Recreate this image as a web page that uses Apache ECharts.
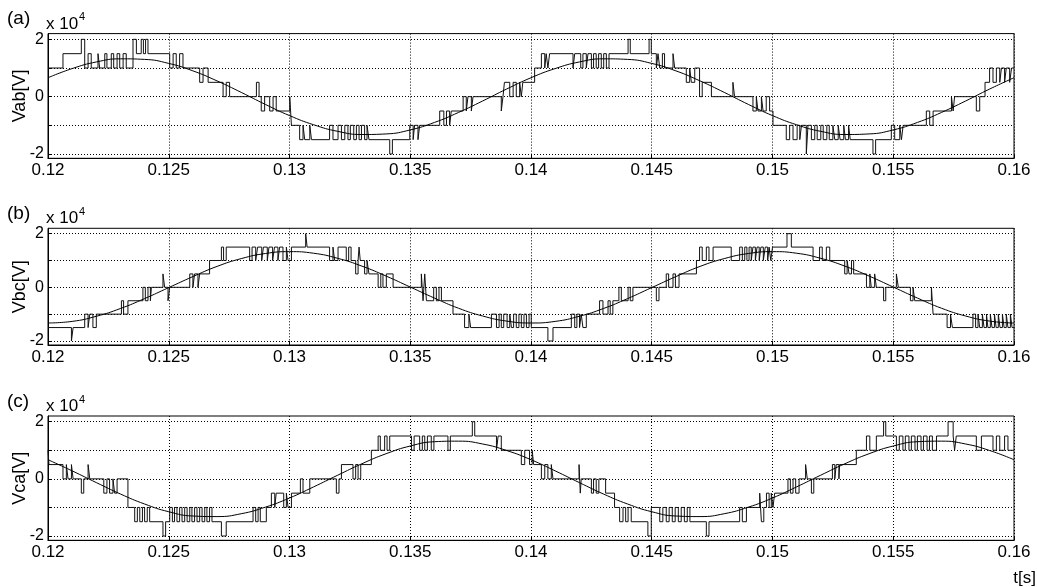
<!DOCTYPE html>
<html>
<head>
<meta charset="utf-8">
<title>Vab Vbc Vca</title>
<script src="https://cdn.jsdelivr.net/npm/echarts@6/dist/echarts.min.js"></script>
<style>
html, body { margin: 0; padding: 0; background: #fff; }
#chart { width: 1037px; height: 587px; }
</style>
</head>
<body>
<div id="chart"></div>
<script>
// time in ms, voltage in 1e4 V
var sineT = [120,121,122,123,124,125,126,127,128,129,130,131,132,133,134,135,136,137,138,139,
	140,141,142,143,144,145,146,147,148,149,150,151,152,153,154,155,156,157,158,159,160];

var vabSine = [0.66,0.98,1.21,1.32,1.30,1.16,0.90,0.55,0.15,-0.27,-0.66,-0.98,-1.21,-1.32,-1.30,-1.16,-0.90,-0.55,-0.15,0.27,
	0.66,0.98,1.21,1.32,1.30,1.16,0.90,0.55,0.15,-0.27,-0.66,-0.98,-1.21,-1.32,-1.30,-1.16,-0.90,-0.55,-0.15,0.27,0.66];
var vbcSine = [-1.33,-1.27,-1.08,-0.79,-0.42,-0.01,0.40,0.78,1.07,1.26,1.33,1.27,1.08,0.79,0.42,0.01,-0.40,-0.78,-1.07,-1.26,
	-1.33,-1.27,-1.08,-0.79,-0.42,-0.01,0.40,0.78,1.07,1.26,1.33,1.27,1.08,0.79,0.42,0.01,-0.40,-0.78,-1.07,-1.26,-1.33];
var vcaSine = [0.67,0.28,-0.13,-0.53,-0.88,-1.15,-1.30,-1.32,-1.22,-0.99,-0.67,-0.28,0.13,0.53,0.88,1.15,1.30,1.32,1.22,0.99,
	0.67,0.28,-0.13,-0.53,-0.88,-1.15,-1.30,-1.32,-1.22,-0.99,-0.67,-0.28,0.13,0.53,0.88,1.15,1.30,1.32,1.22,0.99,0.67];

// [t, level] : level is held until the next t
var vabStep = [[120.00,1],[120.62,1.5],[121.38,2],[121.52,1],[121.66,1.5],[121.79,1],[122.07,1.5],[122.14,1],[122.35,1.5],[122.44,1],
	[122.62,1.5],[122.72,1],[122.86,1.5],[122.97,1],[123.11,1.5],[123.24,1],[123.52,2],[123.66,1.5],[123.86,2],[123.95,1.5],[124.04,2],[124.14,1.5],
	[125.04,1],[125.18,1.5],[125.31,1],[125.45,1.5],[125.59,1],[126.28,0.5],[126.42,1],[126.63,0.5],[127.25,0],[127.38,0.5],[127.52,0],
	[128.63,0.5],[128.74,0],[128.83,-0.5],[128.97,0],[129.18,-0.5],[129.32,0],[129.45,-0.5],[130.01,0],[130.08,-1],[130.42,-1.5],[130.56,-1],
	[130.63,-1.5],[130.84,-1],[130.91,-1.5],[131.66,-1],[131.80,-1.5],[132.01,-1],[132.15,-1.5],[132.29,-1],[132.42,-1.5],[132.52,-1],
	[132.66,-1.5],[132.77,-1],[132.88,-1.5],[132.98,-1],[133.11,-1.5],[133.21,-1],[133.29,-1.5],[134.15,-2],[134.26,-1.5],[134.98,-1],
	[135.12,-1.5],[135.18,-1],[135.32,-1.5],[135.39,-1],[136.22,-0.5],[136.39,-1],[136.50,-0.5],[136.63,-1],[136.70,-0.5],[137.19,0],
	[137.32,-0.5],[137.39,0],[137.53,-0.5],[137.60,0],[138.77,-0.5],[138.84,0],[138.90,0.5],[139.12,0],[139.26,0.5],[139.39,0],[139.53,0.5],
	[139.60,0],[139.66,0.5],[140.15,1],[140.43,1.5],[140.57,1],[140.63,1.5],[140.70,1],[140.77,1.5],[141.74,1],[141.81,1.5],[142.06,1],
	[142.15,1.5],[142.29,1],[142.36,1.5],[142.50,1],[142.59,1.5],[142.70,1],[142.80,1.5],[142.91,1],[143.01,1.5],[143.12,1],[143.23,1.5],
	[144.02,2],[144.11,1.5],[144.89,2],[144.98,1.5],[145.19,1],[145.26,1.5],[145.33,1],[145.44,1.5],[145.53,1],[145.88,1.5],[145.95,1],
	[146.43,0.5],[146.57,1],[146.64,0.5],[146.78,1],[146.98,0],[147.09,0.5],[147.47,0],[148.36,0.5],[148.43,0],[149.19,-0.5],[149.33,0],
	[149.40,-0.5],[149.54,0],[149.61,-0.5],[149.74,0],[149.88,-0.5],[150.02,-1],[150.57,-1.5],[150.71,-1],[150.85,-1.5],[151.02,-1],
	[151.13,-1.5],[151.20,-1],[151.40,-2],[151.47,-1],[151.61,-1.5],[151.75,-1],[151.85,-1.5],[152.00,-1],[152.10,-1.5],[152.25,-1],
	[152.35,-1.5],[152.50,-1],[152.58,-1.5],[152.72,-1],[152.80,-1.5],[152.95,-1],[153.02,-1.5],[153.15,-1],[153.22,-1.5],[154.16,-2],
	[154.27,-1.5],[154.92,-1],[155.06,-1.5],[155.27,-1],[155.34,-1.5],[155.41,-1],[156.37,-0.5],[156.51,-1],[156.65,-0.5],[157.41,0],
	[157.48,-0.5],[157.54,0],[158.44,-0.5],[158.58,0],[158.80,0.5],[158.99,1],[159.13,0.5],[159.27,1],[159.41,0.5],[159.48,1],[159.61,0.5],
	[159.68,1],[159.82,0.5],[159.90,1],[160.00,1]];

var vbcStep = [[120.00,-1.5],[120.97,-2],[121.04,-1.5],[121.52,-1],[121.66,-1.5],[121.73,-1],[121.86,-1.5],[122.00,-1],
	[123.04,-0.5],[123.13,-1],[123.31,-0.5],[123.93,0],[124.03,-0.5],[124.14,0],[124.24,-0.5],[124.28,0],
	[124.76,0.5],[124.83,0],[124.97,-0.5],[125.04,0],[125.87,0.5],[126.00,0],[126.07,0.5],[126.21,0],[126.28,0.5],
	[126.69,1],[127.18,1.5],[127.27,1],[127.38,1.5],[128.35,1],[128.45,1.5],[128.60,1],[128.68,1.5],[128.85,1],[128.92,1.5],[129.08,1],
	[129.15,1.5],[129.30,1],[129.38,1.5],[129.52,1],[129.59,1.5],[129.73,1],[129.87,1.5],[129.94,1],[130.08,1.5],
	[130.67,2],[130.73,1.5],[131.66,1],[131.80,1.5],[131.87,1],[132.01,1.5],[132.35,1],[132.45,1.5],[132.55,1],[132.74,0.5],[132.84,1],
	[132.88,1.5],[132.93,1],[133.11,0.5],[133.21,1],[133.29,0.5],
	[133.67,0],[133.78,0.5],[133.87,0],[134.01,0.5],[134.29,0],[135.46,0.5],[135.53,-0.5],[135.60,0.5],[135.67,-0.5],[135.97,0],
	[136.08,-0.5],[136.19,0],[136.29,-0.5],[136.77,-1],[137.25,-1.5],[137.43,-1],[137.50,-1.5],
	[138.36,-1],[138.57,-1.5],[138.68,-1],[138.77,-1.5],[138.87,-1],[139.01,-1.5],[139.12,-1],[139.19,-1.5],[139.28,-1],[139.39,-1.5],
	[139.50,-1],[139.60,-1.5],[139.71,-1],[139.81,-1.5],[139.92,-1],
	[140.01,-1.5],[140.70,-2],[140.91,-1.5],[141.67,-1],[141.81,-1.5],[141.90,-1],[142.01,-1.5],[142.08,-1],[142.15,-1.5],[142.29,-1],
	[142.84,-0.5],[142.98,-1],[143.19,-0.5],[143.28,-1],[143.39,-0.5],[143.64,0],[143.74,-0.5],[144.02,0],[144.11,-0.5],[144.22,0],
	[145.19,-0.5],[145.30,0],[145.60,0.5],[145.70,0],[145.88,0.5],[145.98,0],[146.13,0.5],[146.85,1],[146.98,1.5],[147.09,1],[147.26,1.5],
	[147.37,1],[147.54,1.5],
	[148.29,1],[148.64,1.5],[148.75,1],[148.85,1.5],[148.94,1],[149.03,1.5],[149.12,1],[149.19,1.5],[149.29,1],[149.36,1.5],[149.45,1],
	[149.52,1.5],[149.62,1],[149.70,1.5],[149.80,1],[149.86,1.5],[149.93,1],
	[150.00,1.5],[150.60,2],[150.78,1.5],[151.68,1],[151.95,1.5],[152.06,1],[152.23,1.5],[152.37,1],[152.99,0.5],[153.09,1],[153.17,0.5],
	[153.27,1],[153.36,0.5],
	[153.89,0],[154.03,0.5],[154.09,0],[154.23,0.5],[154.30,0],[154.60,-0.5],[154.69,0],[155.13,0.5],[155.21,0],[155.71,-0.5],[155.82,0],
	[155.89,-0.5],[156.58,0],[156.65,-1],
	[157.23,-1.5],[157.37,-1],[157.45,-1.5],[158.30,-1],[158.41,-1.5],[158.51,-1],[158.58,-1.5],[158.69,-1],[158.76,-1.5],[158.86,-1],
	[158.92,-1.5],[159.02,-1],[159.09,-1.5],[159.19,-1],[159.26,-1.5],[159.35,-1],[159.42,-1.5],[159.52,-1],[159.59,-1.5],[159.68,-1],
	[159.75,-1.5],[159.85,-1],[159.92,-1.5],[160.00,-1.5]];

var vcaStep = [[120.00,1],[120.04,0.5],[120.62,0],[120.76,0.5],[120.83,0],[120.97,0.5],[121.04,0],[121.38,-0.5],[121.48,0],[121.66,0.5],
	[121.73,0],[122.31,-0.5],[122.44,0],[122.55,-0.5],[122.69,0],[122.76,-0.5],[122.86,0],[123.31,-1],[123.59,-1.5],[123.70,-1],[123.80,-1.5],
	[123.91,-1],[124.00,-1.5],[124.11,-1],[124.21,-1.5],
	[124.76,-2],[124.87,-1.5],[125.04,-1],[125.15,-1.5],[125.24,-1],[125.34,-1.5],[125.45,-1],[125.55,-1.5],[125.66,-1],[125.76,-1.5],
	[125.87,-1],[125.96,-1.5],[126.07,-1],[126.17,-1.5],[126.28,-1],[126.38,-1.5],[126.49,-1],[126.58,-1.5],[126.69,-1],[126.79,-1.5],
	[127.18,-2],[127.38,-1.5],[128.49,-1],[128.60,-1.5],[128.70,-1],[128.79,-1.5],[129.04,-1],[129.25,-0.5],[129.39,-1],[129.45,-0.5],
	[129.76,-1],[129.87,-0.5],[129.94,-1],[130.08,-0.5],[130.45,0],[130.56,-0.5],[130.84,0],[131.94,-0.5],[132.05,0],[132.15,0.5],
	[132.63,0],[132.74,0.5],[132.84,0],[132.95,0.5],
	[133.39,1],[133.67,1.5],[133.76,1],[133.94,1.5],[134.04,1],[134.15,1.5],[135.05,1],[135.16,1.5],[135.39,1],[135.50,1.5],[135.60,1],
	[135.71,1.5],[135.87,1],[135.98,1.5],[136.56,1],[136.66,1.5],[137.57,2],[137.67,1.5],
	[138.57,1],[138.64,1.5],[138.77,1],[139.60,0.5],[139.74,1],[139.94,0.5],[140.05,1],[140.11,0.5],[140.43,0],[140.57,0.5],[140.70,0],
	[140.84,0.5],[140.91,0],
	[141.99,0.5],[142.04,-0.5],[142.08,0],[142.50,-0.5],[142.59,0],[142.70,-0.5],[142.81,0],[143.09,-0.5],[143.46,-1],[143.67,-1.5],
	[143.81,-1],[143.92,-1.5],[144.02,-1],[144.15,-1.5],[144.84,-2],[144.98,-1],
	[145.33,-1.5],[145.46,-1],[145.60,-1.5],[145.72,-1],[145.85,-1.5],[145.97,-1],[146.10,-1.5],[146.22,-1],[146.35,-1.5],[146.47,-1],
	[146.58,-1.5],[147.26,-2],[147.37,-1.5],
	[148.64,-1],[148.75,-1.5],[148.92,-1],[149.47,-0.5],[149.54,-1.5],[149.64,-1],[149.75,-0.5],[149.86,-1],[149.95,-0.5],[150.02,-1],
	[150.09,-0.5],
	[150.64,0],[150.74,-0.5],[150.85,0],[150.96,-0.5],[151.10,0],[151.37,0.5],[151.44,0],[151.61,-0.5],[151.71,0],[152.48,0.5],[152.58,0],
	[152.64,0.5],[152.75,0],[152.78,0.5],
	[153.47,1],[153.89,1.5],[154.03,1],[154.30,1.5],[154.60,2],[154.69,1.5],[155.13,1],[155.25,1.5],[155.40,1],[155.50,1.5],[155.65,1],
	[155.75,1.5],[155.90,1],[156.00,1.5],[156.15,1],[156.25,1.5],[156.40,1],[156.50,1.5],[156.62,1],[156.79,1.5],
	[157.27,2],[157.48,1.5],[157.54,1],[157.61,1.5],[158.44,1],[158.65,1.5],[159.13,1],[159.27,1.5],[159.41,1],[159.61,1.5],[159.75,1],
	[160.00,1]];

var yLabelValues = [-2, 0, 2],
	yGridValues = [-2, -1, 0, 1, 2];

var font = "Arial, 'Liberation Sans', sans-serif";

var panels = [
	{tag: '(a)', name: 'Vab[V]', top: 33.6, height: 124.7, step: vabStep, sine: vabSine},
	{tag: '(b)', name: 'Vbc[V]', top: 228.3, height: 116.7, step: vbcStep, sine: vbcSine},
	{tag: '(c)', name: 'Vca[V]', top: 416.0, height: 124.3, step: vcaStep, sine: vcaSine}
];

var toSec = function(list){
	return list.map(function(p){ return [p[0] / 1000, p[1]]; });
};

var sineData = function(vals){
	return vals.map(function(v, i){ return [sineT[i] / 1000, v]; });
};

var grids = [], xAxes = [], yAxes = [], series = [], texts = [];

panels.forEach(function(p, i){
	grids.push({
		left: 48, right: 23, top: p.top, height: p.height,
		show: true, borderColor: '#000', borderWidth: 1, backgroundColor: '#fff'
	});
	xAxes.push({
		type: 'value', gridIndex: i, min: 0.12, max: 0.16, interval: 0.005,
		axisLine: {show: true, onZero: false, lineStyle: {color: '#000', width: 1}},
		axisTick: {show: true, inside: true, length: 4, lineStyle: {color: '#000'}},
		axisLabel: {
			color: '#000', fontSize: 17, fontFamily: font, margin: 4,
			formatter: function(v){ return String(+v.toFixed(3)); }
		},
		splitLine: {show: true, lineStyle: {color: '#000', width: 1, type: [1, 2]}}
	});
	yAxes.push({
		type: 'value', gridIndex: i, min: -2.15, max: 2.2,
		name: p.name, nameLocation: 'middle', nameGap: 19, nameMoveOverlap: false,
		nameTextStyle: {color: '#000', fontSize: 18, fontFamily: font},
		axisLine: {show: true, lineStyle: {color: '#000', width: 1}},
		axisTick: {show: true, inside: true, length: 4, customValues: yGridValues, lineStyle: {color: '#000'}},
		axisLabel: {color: '#000', fontSize: 16, fontFamily: font, margin: 4, customValues: yLabelValues},
		splitLine: {show: true, lineStyle: {color: '#000', width: 1, type: [1, 2]}}
	});
	// stepped output voltage
	series.push({
		type: 'line', xAxisIndex: i, yAxisIndex: i, step: 'end',
		data: toSec(p.step), showSymbol: false, symbol: 'none',
		lineStyle: {color: '#111', width: 1}, z: 3
	});
	// fundamental
	series.push({
		type: 'line', xAxisIndex: i, yAxisIndex: i, smooth: true,
		data: sineData(p.sine), showSymbol: false, symbol: 'none',
		lineStyle: {color: '#000', width: 1}, z: 4
	});
	texts.push({type: 'text', x: 7, y: p.top - 5,
		style: {text: p.tag, font: '19px ' + font, fill: '#000', textAlign: 'left', textVerticalAlign: 'bottom'}});
	texts.push({type: 'text', x: 46, y: p.top - 1,
		style: {text: 'x 10', font: '17px ' + font, fill: '#000', textAlign: 'left', textVerticalAlign: 'bottom'}});
	texts.push({type: 'text', x: 79, y: p.top - 11,
		style: {text: '4', font: '11px ' + font, fill: '#000', textAlign: 'left', textVerticalAlign: 'bottom'}});
});

texts.push({type: 'text', x: 1036, y: 578,
	style: {text: 't[s]', font: '17px ' + font, fill: '#000', textAlign: 'right', textVerticalAlign: 'middle'}});

var chart = echarts.init(document.getElementById('chart'));
chart.setOption({
	animation: false,
	backgroundColor: '#fff',
	grid: grids,
	xAxis: xAxes,
	yAxis: yAxes,
	series: series,
	graphic: texts
});
</script>
</body>
</html>
